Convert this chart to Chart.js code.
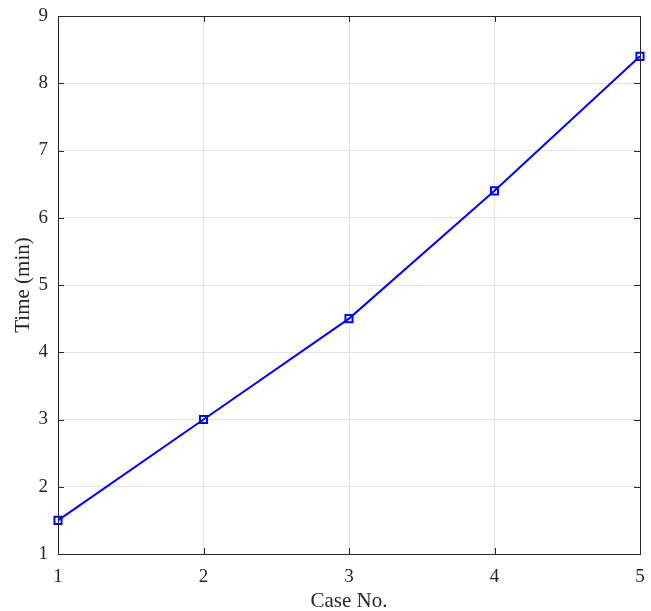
<!DOCTYPE html>
<html>
<head>
<meta charset="utf-8">
<script src="https://cdn.jsdelivr.net/npm/chart.js@4"></script>
<style>
  body { margin: 0; background: #fff; }
</style>
</head>
<body>
<canvas id="timeChart" width="651" height="611"></canvas>
<script>
const caseNo = [1, 2, 3, 4, 5]
const timeMin = [1.5, 3, 4.5, 6.4, 8.4]
const xTicks = [1, 2, 3, 4, 5]
const yTicks = [1, 2, 3, 4, 5, 6, 7, 8, 9]

const axisColor = '#262626'
const tickFont = { family: 'Liberation Serif', size: 19 }
const labelFont = { family: 'Liberation Serif', size: 21 }

// box around the plot with ticks pointing inward on all sides
const boxTicks = {
  id: 'boxTicks',
  afterDatasetsDraw(chart) {
    const { ctx, chartArea: a, scales } = chart
    const len = 6
    ctx.save()
    ctx.strokeStyle = axisColor
    ctx.lineWidth = 1
    ctx.beginPath()
    for (const v of xTicks) {
      const px = Math.round(scales.x.getPixelForValue(v)) + 0.5
      ctx.moveTo(px, a.bottom); ctx.lineTo(px, a.bottom - len)
      ctx.moveTo(px, a.top); ctx.lineTo(px, a.top + len)
    }
    for (const v of yTicks) {
      const py = Math.round(scales.y.getPixelForValue(v)) + 0.5
      ctx.moveTo(a.left, py); ctx.lineTo(a.left + len, py)
      ctx.moveTo(a.right, py); ctx.lineTo(a.right - len, py)
    }
    ctx.stroke()
    ctx.strokeRect(Math.round(a.left) + 0.5, Math.round(a.top) + 0.5,
      Math.round(a.right - a.left), Math.round(a.bottom - a.top))
    ctx.restore()
  }
}

const ctx = document.getElementById('timeChart').getContext('2d')
new Chart(ctx, {
  type: 'line',
  data: {
    datasets: [{
      data: caseNo.map((c, i) => ({ x: c, y: timeMin[i] })),
      borderColor: '#0000ff',
      borderWidth: 2,
      pointStyle: 'rect',
      pointRadius: 5,
      pointBorderWidth: 2,
      pointBorderColor: '#0000ff',
      pointBackgroundColor: 'rgba(0,0,0,0)',
      tension: 0,
      clip: false
    }]
  },
  options: {
    responsive: false,
    animation: false,
    events: [],
    layout: { padding: { top: 16, right: 11, left: 11, bottom: 0 } },
    plugins: {
      legend: { display: false },
      tooltip: { enabled: false }
    },
    scales: {
      x: {
        type: 'linear',
        min: 1,
        max: 5,
        afterBuildTicks: s => { s.ticks = xTicks.map(v => ({ value: v })) },
        afterFit: s => { s.height = 57; s.paddingLeft = 0; s.paddingRight = 0 },
        grid: { color: '#e3e3e3', drawTicks: false },
        border: { display: false },
        ticks: { color: axisColor, font: tickFont, padding: 12 },
        title: { display: true, text: 'Case No.', color: axisColor, font: labelFont, padding: { top: 0, bottom: -3 } }
      },
      y: {
        type: 'linear',
        min: 1,
        max: 9,
        afterBuildTicks: s => { s.ticks = yTicks.map(v => ({ value: v })) },
        afterFit: s => { s.width = 47; s.paddingTop = 0; s.paddingBottom = 0 },
        grid: { color: '#e3e3e3', drawTicks: false },
        border: { display: false },
        ticks: { color: axisColor, font: tickFont, padding: 10 },
        title: { display: true, text: 'Time (min)', color: axisColor, font: labelFont, padding: { top: 0, bottom: 0 } }
      }
    }
  },
  plugins: [boxTicks]
})
</script>
</body>
</html>
